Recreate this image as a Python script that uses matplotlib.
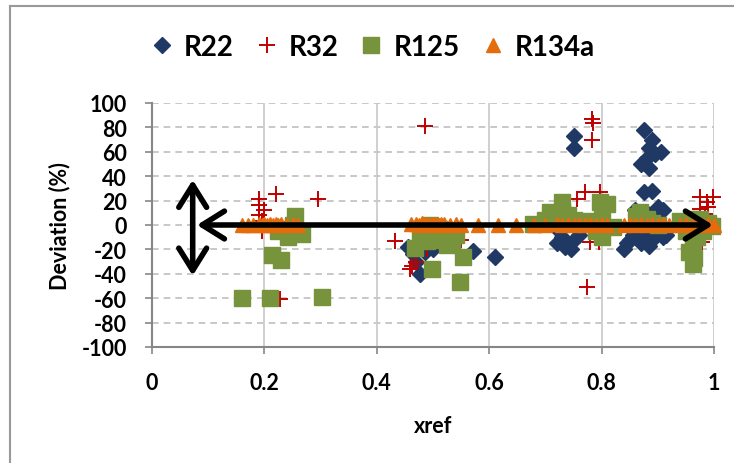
import matplotlib.pyplot as plt
from matplotlib.lines import Line2D

plt.rcParams['font.family'] = ['Lato', 'DejaVu Sans']
plt.rcParams['font.weight'] = 'bold'
plt.rcParams['axes.unicode_minus'] = False

# R22 (diamonds)
r22_x = [0.455, 0.465, 0.47, 0.477, 0.485, 0.49, 0.50, 0.51, 0.571, 0.61,
         0.75, 0.75, 0.72, 0.73, 0.735, 0.745, 0.75, 0.76, 0.725,
         0.875, 0.89, 0.885, 0.895, 0.905, 0.88, 0.87, 0.885,
         0.875, 0.89, 0.86, 0.865, 0.90, 0.91, 0.88, 0.895, 0.87, 0.88,
         0.84, 0.845, 0.85, 0.855, 0.86, 0.87, 0.88, 0.885, 0.89, 0.895,
         0.90, 0.91, 0.915, 0.87, 0.865]
r22_y = [-18, -24, -30, -40, -22, -18, -20, -15, -21, -26,
         73, 63, -15, -10, -18, -20, -12, -8, -5,
         78, 70, 63, 58, 60, 55, 50, 47,
         27, 28, 12, 8, 15, 12, 10, 5, 2, 5,
         -20, -15, -12, -8, -5, -3, -10, -17, -12, -8,
         -5, -10, -8, -15, -10]

# R32 (plus)
r32_x = [0.19, 0.22, 0.19, 0.20, 0.19, 0.195, 0.296, 0.195, 0.228,
         0.486, 0.432, 0.49, 0.462, 0.47, 0.459, 0.55,
         0.783, 0.785, 0.783, 0.756, 0.77, 0.797, 0.774, 0.78, 0.795,
         0.975, 0.998, 0.987, 0.975, 0.984, 0.99, 0.978]
r32_y = [21, 25, 16, 12, 8, 3, 21, -5, -61,
         81, -13, -20, -34, -30, -36, -12,
         87, 84, 70, 21, 27, 27, -51, -14, -14,
         23, 23, 19, 13, 9, 15, -14]

# R125 (squares)
r125_x = [0.16, 0.21, 0.303, 0.213, 0.23, 0.255, 0.224, 0.242, 0.267, 0.235, 0.25, 0.26,
          0.468, 0.477, 0.498, 0.49, 0.505, 0.52, 0.525, 0.533, 0.553, 0.548, 0.51, 0.495, 0.54,
          0.678, 0.70, 0.708, 0.72, 0.73, 0.73, 0.74, 0.75, 0.76, 0.78, 0.797, 0.81, 0.80, 0.79,
          0.80, 0.82, 0.862, 0.868, 0.88, 0.89, 0.90, 0.94, 0.95, 0.955, 0.962, 0.963, 0.96,
          0.97, 0.975, 0.98, 0.99, 0.996, 0.965, 0.97]
r125_y = [-60, -60, -59, -25, -29, 7, -5, -10, -7, -3, 0, -5,
          -19, -10, -36, -13, -8, -12, -16, -12, -26, -47, -3, 0, -8,
          1, 4, 11, 6, 19, 11, 8, 4, 2, 3, 19, 17, 5, -5,
          -10, -2, 7, 11, 5, 2, 0, 3, -5, -22, -17, -32, 5,
          -10, 5, -5, 2, -1, -27, 0]

# R134a (triangles)
r134a_x = [0.16, 0.17, 0.18, 0.19, 0.195, 0.20, 0.205, 0.21, 0.215, 0.22, 0.225, 0.23,
           0.24, 0.25, 0.26,
           0.46, 0.47, 0.475, 0.48, 0.485, 0.49, 0.495, 0.50, 0.505, 0.51, 0.515, 0.52,
           0.53, 0.54, 0.55,
           0.58, 0.615, 0.648, 0.68, 0.70, 0.72, 0.73, 0.74, 0.75, 0.76, 0.77, 0.78, 0.79,
           0.80, 0.81, 0.84, 0.85, 0.86, 0.87, 0.88, 0.89, 0.90, 0.91, 0.92, 0.94, 0.95,
           0.96, 0.97, 0.98, 0.99, 1.00]
r134a_y = [0, 0, 0, 0.5, 0, 1, 0, 0.5, 0, 1, 0, 0.5,
           0, 1, 0,
           0.5, 1, 0, 1.5, 0.5, 1, 0, 1, 0.5, 0, 1, 0.5,
           0, 0.5, 0,
           0, 0, 0, 0, 0, 0.5, 0, 1, 0, 0.5, 0, 1, 0,
           0.5, 0, 0, 0.5, 0, 1, 0, 0.5, 0, 1, 0, 0, 0.5,
           0, 1, 0, 0.5, 0]

x_ticks = [0, 0.2, 0.4, 0.6, 0.8, 1.0]
x_labels = ['0', '0.2', '0.4', '0.6', '0.8', '1']
y_ticks = list(range(-100, 101, 20))

fig = plt.figure(figsize=(7.34, 4.64), dpi=100)
ax = fig.add_axes([0.2071, 0.25, 0.7657, 0.5259])

c22, c32, c125, c134 = '#1F3864', '#C00000', '#77933C', '#E46C0A'

ax.plot(r22_x, r22_y, 'D', color=c22, ms=8, mec=c22, label='R22', clip_on=False)
ax.plot(r32_x, r32_y, '+', color=c32, ms=11, mew=1.4, label='R32', clip_on=False)
ax.plot(r125_x, r125_y, 's', color=c125, ms=12, mec=c125, label='R125', clip_on=False)
ax.plot(r134a_x, r134a_y, '^', color=c134, ms=10, mec=c134, label='R134a', clip_on=False)

ax.set_xlim(0, 1)
ax.set_ylim(-100, 100)
ax.set_xticks(x_ticks)
ax.set_xticklabels(x_labels)
ax.set_yticks(y_ticks)
ax.tick_params(labelsize=15.5, length=5, width=1.2, color='#868686', pad=13)

for s in ['top', 'right']:
    ax.spines[s].set_visible(False)
for s in ['left', 'bottom']:
    ax.spines[s].set_color('#868686')
    ax.spines[s].set_linewidth(1.5)

for yv in y_ticks[1:]:
    ax.axhline(yv, color='#BFBFBF', lw=1.2, ls=(0, (4, 3)), zorder=0)
for xv in x_ticks[1:]:
    ax.axvline(xv, color='#C8C8C8', lw=1.2, zorder=0)

ax.set_xlabel('xref', fontsize=15.5, fontweight='bold', labelpad=16)
ax.set_ylabel('Deviation (%)', fontsize=15.5, fontweight='bold', labelpad=8)

arrow = dict(arrowstyle='<->,head_length=0.8,head_width=0.5', color='black',
             lw=4, mutation_scale=20, shrinkA=0, shrinkB=0)
ax.annotate('', xy=(0.998, 0), xytext=(0.08, 0), arrowprops=arrow,
            annotation_clip=False, zorder=10)
ax.annotate('', xy=(0.0724, 37), xytext=(0.0724, -41.5), arrowprops=arrow,
            annotation_clip=False, zorder=10)

ax.legend(loc='upper center', bbox_to_anchor=(0.39, 1.385), ncol=4, frameon=False,
          handletextpad=0.29, columnspacing=0.69, handlelength=1.0,
          prop={'weight': 'bold', 'size': 20})

# outer chart border
fig.add_artist(Line2D([10 / 734, 10 / 734], [0, 1 - 7 / 464], color='#999999', lw=1.5))
fig.add_artist(Line2D([10 / 734, 1], [1 - 7 / 464, 1 - 7 / 464], color='#999999', lw=1.5))

fig.savefig('out.png', dpi=100)
